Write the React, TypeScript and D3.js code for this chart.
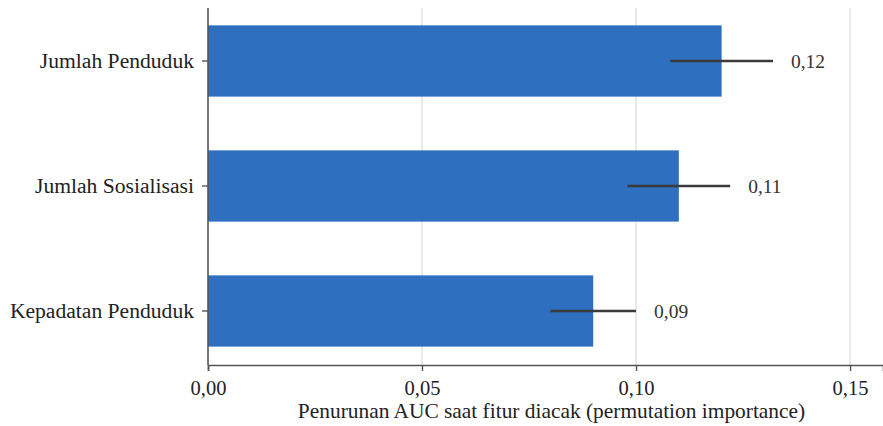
import React, { useEffect, useRef } from 'react';
import * as d3 from 'd3';

// permutation importance
const features = ['Jumlah Penduduk', 'Jumlah Sosialisasi', 'Kepadatan Penduduk'];
const importance = [0.12, 0.11, 0.09];
const importanceStd = [0.012, 0.012, 0.01];
const xTicks = [0, 0.05, 0.1, 0.15];

const W = 883;
const H = 426;
const FONT = '"Liberation Serif", "Times New Roman", serif';

const App = () => {
    const ref = useRef<SVGSVGElement>(null);

    useEffect(() => {
        document.body.style.margin = '0';
        const svg = d3.select(ref.current);
        svg.selectAll('*').remove();

        const left = 208;
        const top = 8;
        const bottom = 365;

        const x = d3.scaleLinear().domain([0, 0.1577]).range([left, W]);
        const y = d3.scaleBand()
            .domain(features)
            .range([-1.5, 373.5])
            .paddingInner(0.43)
            .paddingOuter(0.215);

        const rows = features.map((f, i) => ({ f, v: importance[i], e: importanceStd[i] }));
        const fmt = (d: number) => d.toFixed(2).replace('.', ',');

        // grid
        svg.append('g')
            .selectAll('line')
            .data(xTicks.slice(1))
            .enter()
            .append('line')
            .attr('x1', d => x(d)).attr('x2', d => x(d))
            .attr('y1', top).attr('y2', bottom)
            .attr('stroke', '#dcdcdc')
            .attr('stroke-width', 1.2);

        // bars
        svg.append('g')
            .selectAll('rect')
            .data(rows)
            .enter()
            .append('rect')
            .attr('x', x(0))
            .attr('y', d => y(d.f)!)
            .attr('width', d => x(d.v) - x(0))
            .attr('height', y.bandwidth())
            .attr('fill', '#2e6fbf');

        // error bars
        svg.append('g')
            .selectAll('line')
            .data(rows)
            .enter()
            .append('line')
            .attr('x1', d => x(d.v - d.e))
            .attr('x2', d => x(d.v + d.e))
            .attr('y1', d => y(d.f)! + y.bandwidth() / 2)
            .attr('y2', d => y(d.f)! + y.bandwidth() / 2)
            .attr('stroke', '#3a3a3a')
            .attr('stroke-width', 2.5);

        // value labels
        svg.append('g')
            .selectAll('text')
            .data(rows)
            .enter()
            .append('text')
            .attr('x', d => x(d.v + d.e) + 18)
            .attr('y', d => y(d.f)! + y.bandwidth() / 2)
            .attr('dy', '0.35em')
            .attr('font-family', FONT)
            .attr('font-size', 19.5)
            .attr('fill', '#333')
            .text(d => fmt(d.v));

        // x axis
        const xAxis = svg.append('g')
            .attr('transform', `translate(0,${bottom})`)
            .call(d3.axisBottom(x).tickValues(xTicks).tickFormat(d => fmt(+d)).tickSizeOuter(0).tickSize(6));
        xAxis.select('.domain').attr('stroke', '#555').attr('stroke-width', 1.6);
        xAxis.selectAll('.tick line').attr('stroke', '#555').attr('stroke-width', 1.4);
        xAxis.selectAll('.tick text')
            .attr('font-family', FONT)
            .attr('font-size', 20.5)
            .attr('fill', '#222')
            .attr('dy', '1.03em');

        // y axis
        const yAxis = svg.append('g')
            .attr('transform', `translate(${left},0)`)
            .call(d3.axisLeft(y).tickSizeOuter(0).tickSize(6));
        yAxis.select('.domain').attr('d', `M0,${top}V${bottom}`).attr('stroke', '#555').attr('stroke-width', 1.6);
        yAxis.selectAll('.tick line').attr('stroke', '#555').attr('stroke-width', 1.4);
        yAxis.selectAll('.tick text')
            .attr('font-family', FONT)
            .attr('font-size', 21.6)
            .attr('fill', '#222')
            .attr('x', -14);

        svg.append('text')
            .attr('x', 551.5)
            .attr('y', 418)
            .attr('text-anchor', 'middle')
            .attr('font-family', FONT)
            .attr('font-size', 21.4)
            .attr('fill', '#222')
            .text('Penurunan AUC saat fitur diacak (permutation importance)');
    }, []);

    return <svg ref={ref} width={W} height={H} style={{ display: 'block' }} />;
};

export default App;
